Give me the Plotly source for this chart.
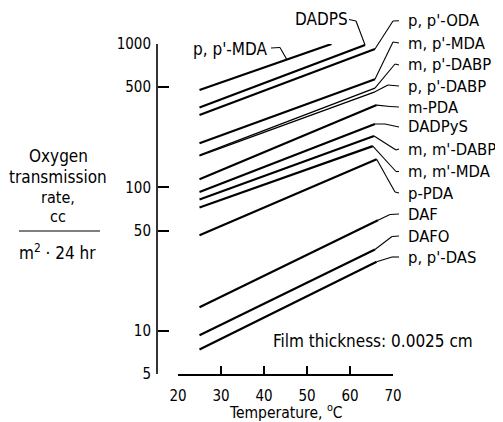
import numpy as np
import plotly.graph_objects as go

# ---- data ----
names = ["p, p'-MDA", "DADPS", "p, p'-ODA", "m, p'-MDA", "m, p'-DABP", "p, p'-DABP",
         "m-PDA", "DADPyS", "m, m'-DABP", "m, m'-MDA", "p-PDA", "DAF", "DAFO", "p, p'-DAS"]
t_start = [25, 25, 25, 25, 25, 25, 25, 25, 25, 25, 25, 25, 25, 25]
rate_start = [478, 361, 320, 203, 168, 166, 114, 93, 82.4, 72.5, 46.4, 14.6, 9.3, 7.4]
t_end = [55.7, 63.5, 65.8, 65.8, 65.8, 65.8, 66.2, 65.8, 65.6, 65.3, 66.2, 66.5, 65.8, 66.2]
rate_end = [1000, 984, 923, 567, 493, 464, 375, 277, 228, 194, 157, 59, 36.9, 30.3]

x_ticks = [20, 30, 40, 50, 60, 70]
y_ticks = [5, 10, 50, 100, 500, 1000]
y_ticktext = ["5", "10", "50", "100", "500", "1000"]

# ---- layout geometry (screen pixels; page body has an 8px margin) ----
OFF = 8
W, H = 503 - OFF, 422 - OFF
PLOT_L, PLOT_R, PLOT_T, PLOT_B = 157, 393, 44, 374   # screen px
ML, MT = PLOT_L - OFF, PLOT_T - OFF
MR, MB = W - (PLOT_R - OFF), H - (PLOT_B - OFF)
PW, PH = W - ML - MR, H - MT - MB
X0PX, X1PX = 178, 393
XMIN, XMAX = 20, 70
YMIN, YMAX = np.log10(5), 3.0

def px2paper(px, py):
    return (px - PLOT_L) / PW, (PLOT_B - py) / PH

def data2paper(t, v):
    px = X0PX + (t - XMIN) / (XMAX - XMIN) * (X1PX - X0PX)
    py = (np.log10(v) - YMIN) / (YMAX - YMIN)
    return (px - PLOT_L) / PW, py

FONT = "DejaVu Sans Condensed, DejaVu Sans, sans-serif"
FS = 16.5

fig = go.Figure()
for i in range(len(names)):
    w = 1.4 if i in (4, 5) else 2.2
    fig.add_trace(go.Scatter(x=[t_start[i], t_end[i]], y=[rate_start[i], rate_end[i]],
                             mode="lines", line=dict(color="black", width=w),
                             showlegend=False, hoverinfo="skip", name=names[i]))

shapes = []
annotations = []

def seg(p, q, w=1.1):
    shapes.append(dict(type="line", xref="paper", yref="paper", x0=p[0], y0=p[1],
                       x1=q[0], y1=q[1], line=dict(color="black", width=w)))

def label(text, px, py, anchor="left", size=FS):
    x, y = px2paper(px, py)
    annotations.append(dict(text=text, x=x, y=y, xref="paper", yref="paper",
                            xanchor=anchor, yanchor="middle", showarrow=False,
                            font=dict(family=FONT, size=size, color="black")))

# y axis line (drawn as a shape)
seg((0, 0), (0, 1), w=1.6)

# right-hand labels: (index, label y px, elbow px)
right = [
    (2, 20.7, (393, 21)),
    (3, 43, (393, 42)),
    (4, 65, (395, 64)),
    (5, 86, (388, 85)),
    (6, 107, (390, 106.5)),
    (7, 127, (385, 124)),
    (8, 149, (396, 150)),
    (9, 171.5, (396, 171.5)),
    (10, 193, (395, 192)),
    (11, 214, (390, 214.5)),
    (12, 236, (392, 236.5)),
    (13, 257, (392, 257)),
]
for idx, ly, elbow in right:
    start = data2paper(t_end[idx], rate_end[idx])
    e = px2paper(*elbow)
    seg(start, e)
    seg(e, px2paper(399, ly))
    label(names[idx], 406, ly)

# p,p'-MDA label (upper left, leader to mid-line)
t_att = 45.3
lv = np.log10(rate_start[0]) + (t_att - t_start[0]) / (t_end[0] - t_start[0]) * (np.log10(rate_end[0]) - np.log10(rate_start[0]))
att = data2paper(t_att, 10 ** lv)
seg(px2paper(271, 48), px2paper(280, 47.5))
seg(px2paper(280, 47.5), att)
label(names[0], 230, 49, anchor="center", size=17)

# DADPS label
seg(px2paper(349, 19.5), px2paper(356, 21))
seg(px2paper(356, 21), data2paper(t_end[1], rate_end[1]))
label(names[1], 321, 19, anchor="center", size=17)

# y-axis title
for txt, py, s in [("Oxygen", 156, 17), ("transmission", 177, 17), ("rate,", 197, 16), ("cc", 216, 16)]:
    label(txt, 58, py, anchor="center", size=s)
seg(px2paper(19, 231), px2paper(100, 231), w=1.2)
label("m<sup>2</sup> · 24 hr", 57, 252, anchor="center", size=17)

# x-axis title
label("Temperature, <sup>o</sup>C", 286, 411, anchor="center", size=15.5)

# film thickness note
label("Film thickness: 0.0025 cm", 373, 341, anchor="center", size=17)

fig.update_layout(
    width=W, height=H,
    margin=dict(l=ML, r=MR, t=MT, b=MB),
    paper_bgcolor="white", plot_bgcolor="white",
    font=dict(family=FONT, size=15, color="black"),
    shapes=shapes, annotations=annotations,
    xaxis=dict(domain=[(X0PX - PLOT_L) / PW, 1], range=[XMIN, XMAX],
               showline=True, linecolor="black", linewidth=1.5,
               ticks="inside", ticklen=8, tickwidth=1.5, tickcolor="black",
               tickvals=x_ticks, showgrid=False, zeroline=False,
               tickfont=dict(family=FONT, size=15), ticklabelstandoff=7),
    yaxis=dict(type="log", range=[YMIN, YMAX], anchor="free", position=0,
               showline=False,
               ticks="inside", ticklen=11, tickwidth=1.5, tickcolor="black",
               tickvals=y_ticks, ticktext=y_ticktext, showgrid=False, zeroline=False,
               tickfont=dict(family=FONT, size=15), ticklabelstandoff=6),
)

fig.write_html("out.html")
